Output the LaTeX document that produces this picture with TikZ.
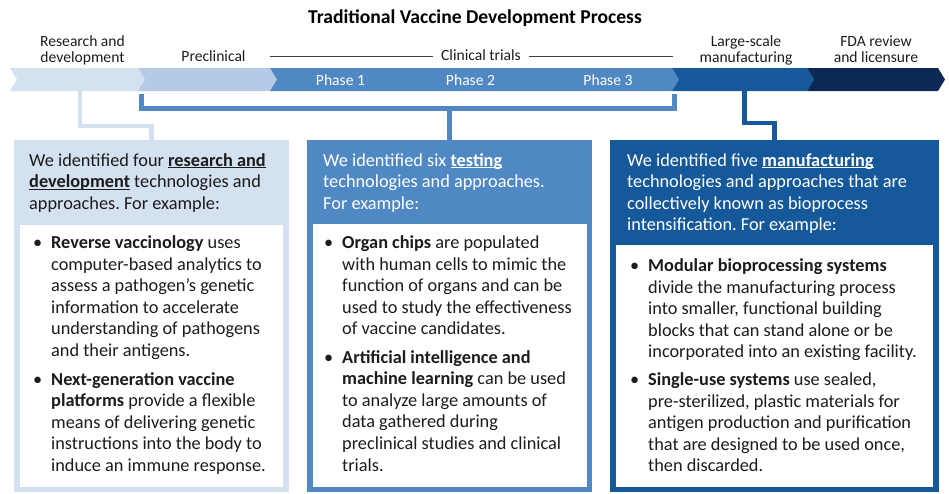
\documentclass[tikz,border=0pt]{standalone}
\usepackage{fontspec}
\setmainfont{Carlito}
\frenchspacing

\definecolor{rdblue}{HTML}{D4E1F0}
\definecolor{preblue}{HTML}{B5CAE4}
\definecolor{testblue}{HTML}{5088C4}
\definecolor{mfgblue}{HTML}{16599A}
\definecolor{fdablue}{HTML}{0B2953}
\definecolor{inktext}{HTML}{1C1C1C}

\newlength{\keylen}
\newcommand{\keyterm}[1]{\settowidth{\keylen}{\textbf{#1}}\textbf{#1}\hspace{-\keylen}\rule[-2.4pt]{\keylen}{1.4pt}}
\newcommand{\stagelines}[1]{\begin{tabular}[t]{@{}c@{}}#1\end{tabular}}
\newcommand{\headlines}[1]{\begin{tabular}[t]{@{}l@{}}#1\end{tabular}}
\newcommand{\itemlines}[1]{\begin{tabular}[t]{@{}p{18pt}@{}l@{}}#1\end{tabular}}

\tikzset{
	titletext/.style={anchor=base, inner sep=0pt, font=\fontsize{19.6}{22}\selectfont\bfseries, text=black},
	stagetext/.style={anchor=base, inner sep=0pt, font=\fontsize{15.6}{16}\selectfont, text=inktext},
	phasetext/.style={anchor=base, inner sep=0pt, font=\fontsize{15.6}{16}\selectfont, text=white},
	panel/.style={anchor=north west, inner sep=0pt, draw=none},
	blocktext/.style={anchor=base west, inner sep=0pt, font=\fontsize{18.3}{21.6}\selectfont},
	link/.style={line width=4.5pt},
	trialrule/.style={line width=0.9pt, draw=black!75}
}

\begin{document}
\begin{tikzpicture}[x=1pt,y=-1pt]
	\useasboundingbox (0,0) rectangle (949,493);

	\node[titletext] (title) at (475,23) {Traditional Vaccine Development Process};

	% stage bar
	\fill[rdblue] (10,68) -- (138,68) -- (145,79.5) -- (138,91) -- (10,91) -- (17,79.5) -- cycle;
	\fill[preblue] (138,68) -- (270,68) -- (277,79.5) -- (270,91) -- (138,91) -- (145,79.5) -- cycle;
	\fill[testblue] (270,68) -- (672,68) -- (679,79.5) -- (672,91) -- (270,91) -- (277,79.5) -- cycle;
	\fill[mfgblue] (672,68) -- (807,68) -- (814,79.5) -- (807,91) -- (672,91) -- (679,79.5) -- cycle;
	\fill[fdablue] (807,68) -- (938,68) -- (945,79.5) -- (938,91) -- (807,91) -- (814,79.5) -- cycle;

	\node[stagetext] (rdlabel) at (82.5,46) {\stagelines{Research and\\development}};
	\node[stagetext] (prelabel) at (213.5,61) {Preclinical};
	\node[stagetext, inner xsep=8pt] (clinlabel) at (481,60) {Clinical trials};
	\node[stagetext] (mfglabel) at (746,46) {\stagelines{Large-scale\\manufacturing}};
	\node[stagetext] (fdalabel) at (876,46) {\stagelines{FDA review\\and licensure}};

	\coordinate (trialL) at (270,56);
	\coordinate (trialR) at (673,56);
	\draw[trialrule] (trialL) -- (trialL -| clinlabel.west);
	\draw[trialrule] (trialR -| clinlabel.east) -- (trialR);

	\node[phasetext] (phaseone) at (340.5,85) {Phase 1};
	\node[phasetext] (phasetwo) at (470.5,85) {Phase 2};
	\node[phasetext] (phasethree) at (608,85) {Phase 3};

	% panels
	\node[panel, fill=rdblue, minimum width=275pt, minimum height=352pt] (rdbox) at (14,140) {};
	\node[panel, fill=white, minimum width=263pt, minimum height=262pt] (rdinner) at (20,225) {};
	\node[panel, fill=testblue, minimum width=285pt, minimum height=352pt] (testbox) at (307,140) {};
	\node[panel, fill=white, minimum width=274pt, minimum height=263pt] (testinner) at (313,224) {};
	\node[panel, fill=mfgblue, minimum width=329pt, minimum height=352pt] (mfgbox) at (610,140) {};
	\node[panel, fill=white, minimum width=317pt, minimum height=242pt] (mfginner) at (616,245) {};

	% links from the bar to the panels
	\coordinate (rdstem) at (80,91);
	\coordinate (bracketL) at (141.5,94);
	\coordinate (bracketR) at (674.5,94);
	\coordinate (mfgstem) at (744.5,91);
	\draw[link, rdblue] (rdstem) -- ++(0,35) -| (rdbox.north);
	\draw[link, testblue] (bracketL) -- ++(0,14.5) -| (bracketR);
	\draw[link, testblue] (testbox.north) -- ++(0,-31.5);
	\draw[link, mfgblue] (mfgstem) -- ++(0,32) -| (mfgbox.north);

	% panel texts
	\node[blocktext, text=inktext] (rdhead) at (29,166) {\headlines{We identified four \keyterm{research and}\\
		\keyterm{development} technologies and\\
		approaches. For example:}};
	\node[blocktext, text=white] (testhead) at (323,166) {\headlines{We identified six \keyterm{testing}\\
		technologies and approaches.\\
		For example:}};
	\node[blocktext, text=white] (mfghead) at (627,166) {\headlines{We identified five \keyterm{manufacturing}\\
		technologies and approaches that are\\
		collectively known as bioprocess\\
		intensification. For example:}};

	\node[blocktext, text=inktext] (rditemA) at (33,248.5) {\itemlines{\textbullet & \textbf{Reverse vaccinology} uses\\
		& computer-based analytics to\\
		& assess a pathogen's genetic\\
		& information to accelerate\\
		& understanding of pathogens\\
		& and their antigens.}};
	\node[blocktext, text=inktext] (rditemB) at (33,385) {\itemlines{\textbullet & \textbf{Next-generation vaccine}\\
		& \textbf{platforms} provide a flexible\\
		& means of delivering genetic\\
		& instructions into the body to\\
		& induce an immune response.}};

	\node[blocktext, text=inktext] (testitemA) at (324,248.5) {\itemlines{\textbullet & \textbf{Organ chips} are populated\\
		& with human cells to mimic the\\
		& function of organs and can be\\
		& used to study the effectiveness\\
		& of vaccine candidates.}};
	\node[blocktext, text=inktext] (testitemB) at (324,363) {\itemlines{\textbullet & \textbf{Artificial intelligence and}\\
		& \textbf{machine learning} can be used\\
		& to analyze large amounts of\\
		& data gathered during\\
		& preclinical studies and clinical\\
		& trials.}};

	\node[blocktext, text=inktext] (mfgitemA) at (630,271.5) {\itemlines{\textbullet & \textbf{Modular bioprocessing systems}\\
		& divide the manufacturing process\\
		& into smaller, functional building\\
		& blocks that can stand alone or be\\
		& incorporated into an existing facility.}};
	\node[blocktext, text=inktext] (mfgitemB) at (630,385.5) {\itemlines{\textbullet & \textbf{Single-use systems} use sealed,\\
		& pre-sterilized, plastic materials for\\
		& antigen production and purification\\
		& that are designed to be used once,\\
		& then discarded.}};

\end{tikzpicture}
\end{document}
